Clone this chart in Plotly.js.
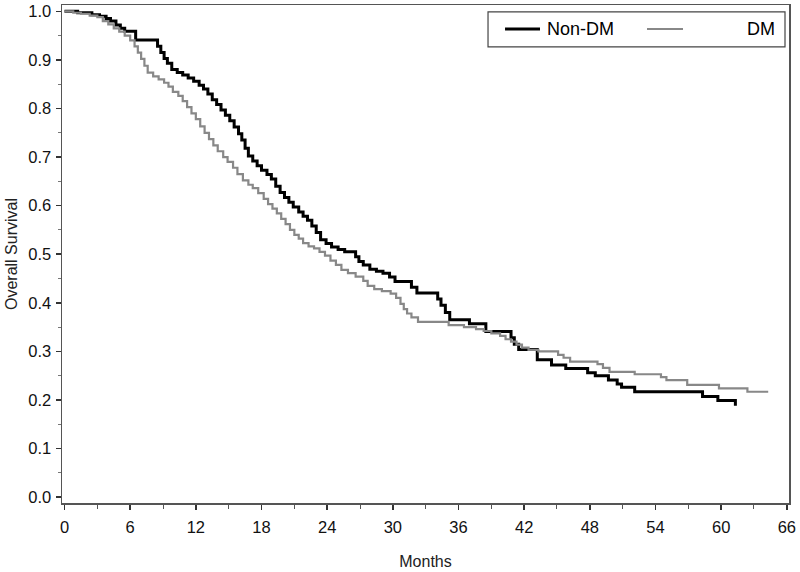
<!DOCTYPE html>
<html>
<head>
<meta charset="utf-8">
<script src="https://cdn.plot.ly/plotly-3.0.1.min.js"></script>
<style>html,body{margin:0;padding:0;background:#fff;}#chart{width:800px;height:572px;}</style>
</head>
<body>
<div id="chart"></div>
<script>
// Kaplan-Meier step data (months, overall survival)
var nonDmMonths = [0,1.2,2.5,3.2,3.8,4.2,4.7,5.1,5.5,6.5,8.5,8.8,9.1,9.4,9.8,10.3,10.8,11.3,11.8,12.3,12.7,13.1,13.5,13.9,14.3,14.7,15.1,15.5,15.9,16.2,16.5,16.8,17.2,17.6,18.0,18.5,18.9,19.3,19.7,20.1,20.5,20.9,21.4,21.8,22.2,22.6,23.0,23.4,23.9,24.4,25.0,25.6,26.6,26.9,27.3,27.9,28.5,29.1,29.7,30.2,31.7,32.2,34.1,34.4,34.8,35.2,37.0,38.5,40.8,41.1,41.5,43.2,44.5,45.8,47.8,48.5,49.7,50.5,50.9,52.1,58.3,59.7,61.3];
var nonDmSurv   = [1.0,0.997,0.993,0.990,0.985,0.980,0.972,0.965,0.959,0.941,0.928,0.915,0.903,0.893,0.880,0.874,0.869,0.863,0.856,0.848,0.840,0.830,0.818,0.808,0.797,0.786,0.775,0.762,0.748,0.735,0.718,0.702,0.692,0.682,0.673,0.664,0.655,0.640,0.627,0.617,0.607,0.597,0.587,0.578,0.570,0.558,0.545,0.530,0.522,0.515,0.510,0.505,0.495,0.485,0.478,0.469,0.465,0.461,0.453,0.444,0.432,0.420,0.408,0.395,0.380,0.365,0.357,0.341,0.328,0.315,0.304,0.283,0.272,0.265,0.256,0.250,0.241,0.233,0.226,0.217,0.207,0.199,0.188];

var dmMonths = [0,0.8,1.5,2.3,3.0,3.5,4.0,4.5,5.0,5.5,6.0,6.4,6.7,7.0,7.3,7.6,8.1,8.6,9.1,9.5,9.9,10.4,10.8,11.2,11.6,12.0,12.4,12.8,13.2,13.6,14.0,14.5,14.9,15.4,15.8,16.3,16.8,17.2,17.7,18.2,18.6,19.0,19.4,19.8,20.2,20.6,21.0,21.4,21.8,22.3,22.8,23.3,23.8,24.3,24.8,25.3,25.9,26.6,27.3,27.7,28.3,29.0,29.8,30.3,30.7,31.0,31.3,31.7,32.3,35.1,36.5,37.6,38.3,39.0,39.8,40.3,40.8,41.3,41.8,42.4,43.3,45.1,45.6,46.2,48.7,49.2,49.8,52.1,54.5,55.0,56.9,59.8,62.4,64.3];
var dmSurv   = [1.0,0.997,0.995,0.991,0.988,0.980,0.973,0.965,0.958,0.950,0.940,0.928,0.915,0.902,0.888,0.874,0.866,0.860,0.853,0.845,0.834,0.826,0.815,0.803,0.790,0.778,0.763,0.750,0.737,0.724,0.712,0.700,0.690,0.678,0.665,0.652,0.643,0.636,0.626,0.614,0.603,0.594,0.584,0.573,0.562,0.550,0.540,0.532,0.523,0.516,0.512,0.505,0.497,0.487,0.478,0.468,0.461,0.454,0.445,0.435,0.428,0.424,0.419,0.410,0.398,0.387,0.378,0.370,0.361,0.354,0.350,0.346,0.342,0.337,0.332,0.325,0.320,0.314,0.308,0.303,0.300,0.293,0.287,0.279,0.274,0.266,0.258,0.253,0.247,0.241,0.231,0.224,0.217,0.217];

var groupNames = ["Non-DM", "DM"];
var xTickVals = [0,6,12,18,24,30,36,42,48,54,60,66];
var yTickVals = [0.0,0.1,0.2,0.3,0.4,0.5,0.6,0.7,0.8,0.9,1.0];

var FONT = "Liberation Sans, Arial, sans-serif";
var BLACK = "#000000", GRAY = "#888888";

var traces = [
  {x: nonDmMonths, y: nonDmSurv, name: groupNames[0], type: "scatter", mode: "lines",
   line: {shape: "hv", color: BLACK, width: 3}, showlegend: false},
  {x: dmMonths, y: dmSurv, name: groupNames[1], type: "scatter", mode: "lines",
   line: {shape: "hv", color: GRAY, width: 2.2}, showlegend: false}
];

var layout = {
  width: 800, height: 572,
  margin: {l: 62, r: 11, t: 5, b: 69, pad: 0},
  paper_bgcolor: "#fff", plot_bgcolor: "#fff",
  font: {family: FONT, color: "#111", size: 16},
  showlegend: false,
  xaxis: {
    range: [-0.23, 66.2], tickvals: xTickVals, ticktext: xTickVals.map(String),
    ticks: "outside", ticklen: 5, tickwidth: 1.5, tickcolor: "#333",
    minor: {dtick: 3, tick0: 0, ticks: "outside", ticklen: 4, tickwidth: 1, tickcolor: "#555", showgrid: false},
    showline: true, linecolor: "#555", linewidth: 1.5, mirror: true,
    showgrid: false, zeroline: false, ticklabelstandoff: 4,
    tickfont: {family: FONT, size: 16.5, color: "#111"},
    title: {text: "Months", font: {family: FONT, size: 16, color: "#222"}, standoff: 20}
  },
  yaxis: {
    range: [-0.012, 1.013], tickvals: yTickVals, ticktext: yTickVals.map(function(v){return v.toFixed(1);}),
    ticks: "outside", ticklen: 5, tickwidth: 1.5, tickcolor: "#333",
    minor: {dtick: 0.05, tick0: 0, ticks: "outside", ticklen: 3, tickwidth: 1, tickcolor: "#777", showgrid: false},
    showline: true, linecolor: "#555", linewidth: 1.5, mirror: true,
    showgrid: false, zeroline: false, ticklabelstandoff: 1,
    tickfont: {family: FONT, size: 16.5, color: "#111"},
    title: {text: "Overall Survival", font: {family: FONT, size: 16, color: "#222"}, standoff: 6}
  },
  shapes: [
    {type: "rect", xref: "paper", yref: "paper", x0: 0.586, x1: 0.9945, y0: 0.916, y1: 0.986,
     line: {color: "#444", width: 1.2}, fillcolor: "rgba(0,0,0,0)"},
    {type: "line", xref: "paper", yref: "paper", x0: 0.6094, x1: 0.6575, y0: 0.9518, y1: 0.9518,
     line: {color: BLACK, width: 3}},
    {type: "line", xref: "paper", yref: "paper", x0: 0.8047, x1: 0.8542, y0: 0.9518, y1: 0.9518,
     line: {color: GRAY, width: 2.2}}
  ],
  annotations: [
    {xref: "paper", yref: "paper", x: 0.6644, y: 0.9518, xanchor: "left", yanchor: "middle",
     text: groupNames[0], showarrow: false, font: {family: FONT, size: 18, color: "#000"}},
    {xref: "paper", yref: "paper", x: 0.9835, y: 0.9518, xanchor: "right", yanchor: "middle",
     text: groupNames[1], showarrow: false, font: {family: FONT, size: 18, color: "#000"}}
  ]
};

Plotly.newPlot("chart", traces, layout, {displayModeBar: false, staticPlot: true});
</script>
</body>
</html>
